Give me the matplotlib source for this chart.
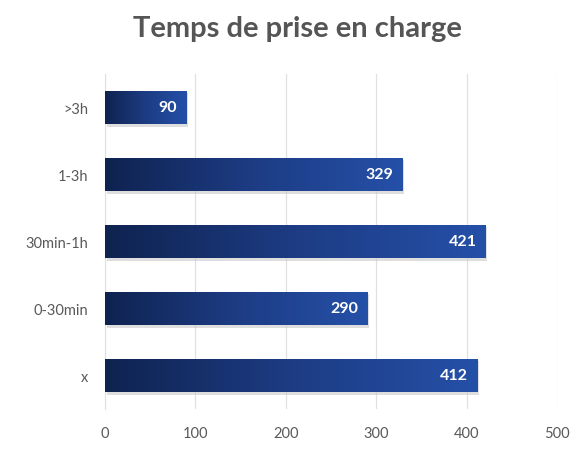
import numpy as np
import matplotlib.pyplot as plt
from matplotlib.colors import LinearSegmentedColormap
from matplotlib.patches import Rectangle

plt.rcParams['font.family'] = ['Lato', 'DejaVu Sans']

categories = ['x', '0-30min', '30min-1h', '1-3h', '>3h']
valeurs = [412, 290, 421, 329, 90]

fig = plt.figure(figsize=(5.79, 4.56), dpi=100)
ax = fig.add_axes([0.181, 0.101, 0.781, 0.735])

degrade = LinearSegmentedColormap.from_list('bleu', ['#0f2350', '#1d3c84', '#2550a8'])
grad = np.linspace(0, 1, 256).reshape(1, -1)
h = 0.5

for i, v in enumerate(valeurs):
    # ombre
    ax.add_patch(Rectangle((2, i - h / 2 - 0.04), v, h, color='#c8c8c8', alpha=0.6, zorder=2, lw=0))
    im = ax.imshow(grad, cmap=degrade, aspect='auto', extent=(0, v, i - h / 2, i + h / 2), zorder=3)
    rect = Rectangle((0, i - h / 2), v, h, transform=ax.transData, fill=False, lw=0)
    ax.add_patch(rect)
    im.set_clip_path(rect)
    ax.text(v - 10, i, str(v), ha='right', va='center', color='white',
            fontsize=11.5, fontweight='bold', zorder=4)

ax.set_xlim(0, 500)
ax.set_ylim(-0.5, 4.5)
ax.set_yticks(range(len(categories)))
ax.set_yticklabels(categories)
ax.set_xticks([0, 100, 200, 300, 400, 500])
ax.tick_params(length=0, colors='#595959', labelsize=10.5)
ax.tick_params(axis='y', pad=12)
ax.tick_params(axis='x', pad=12)
ax.grid(axis='x', color='#e0e0e0', lw=0.9, zorder=0)
ax.set_axisbelow(True)
for s in ['top', 'right', 'bottom']:
    ax.spines[s].set_visible(False)
ax.spines['left'].set_color('#e0e0e0')

fig.suptitle('Temps de prise en charge', x=0.513, y=0.965, fontsize=21,
             fontweight='bold', color='#555555')

fig.savefig('out.png')
